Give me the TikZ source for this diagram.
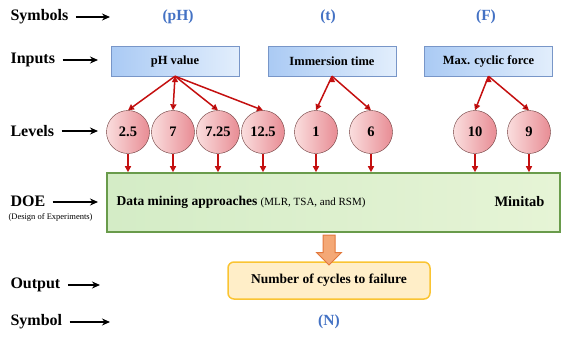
\documentclass[tikz,border=0pt]{standalone}
\usepackage{fontspec}
\setmainfont{Liberation Serif}
\usetikzlibrary{arrows.meta,shapes.arrows}

\definecolor{symblue}{RGB}{68,114,196}
\definecolor{inline}{RGB}{120,150,200}
\definecolor{inleft}{RGB}{170,202,244}
\definecolor{inright}{RGB}{226,238,252}
\definecolor{lvlline}{RGB}{105,55,55}
\definecolor{lvlleft}{RGB}{250,222,222}
\definecolor{lvlright}{RGB}{232,140,148}
\definecolor{feedred}{RGB}{196,16,16}
\definecolor{doeline}{RGB}{105,155,75}
\definecolor{doeleft}{RGB}{212,236,198}
\definecolor{doeright}{RGB}{230,244,214}
\definecolor{outline}{RGB}{250,196,50}
\definecolor{outfill}{RGB}{255,238,200}
\definecolor{flowline}{RGB}{226,120,60}
\definecolor{flowfill}{RGB}{244,168,118}

\begin{document}
\begin{tikzpicture}[x=1pt,y=-1pt,
  lbl/.style={anchor=west,font=\fontsize{16}{18}\selectfont\bfseries},
  sym/.style={text=symblue,font=\fontsize{15.5}{17}\selectfont\bfseries},
  inbox/.style={draw=inline,left color=inleft,right color=inright,
    minimum width=128pt,minimum height=30pt,font=\fontsize{12.5}{14}\selectfont\bfseries},
  lvl/.style={circle,draw=lvlline,left color=lvlleft,right color=lvlright,
    minimum size=43pt,inner sep=0pt,font=\fontsize{14.5}{16}\selectfont\bfseries},
  feed/.style={draw=feedred,line width=1.5pt,-{Triangle[length=6pt,width=6pt]}},
  blk/.style={line width=2pt,shorten <=4pt,-{Stealth[length=8pt,width=7pt]}}]
\useasboundingbox (0,0) rectangle (568,338);

% row labels on the left
\node[lbl] (symbols) at (7,17) {Symbols};
\node[lbl] (inputs) at (7,60) {Inputs};
\node[lbl] (levels) at (7,131) {Levels};
\node[lbl] (doelbl) at (7,201) {DOE};
\node[anchor=west,font=\fontsize{8.5}{10}\selectfont] (doefull) at (5,217) {(Design of Experiments)};
\node[lbl] (output) at (7,285) {Output};
\node[lbl] (symbol) at (7,322) {Symbol};
\coordinate (symbols-end) at (110,17);
\coordinate (inputs-end) at (98,60);
\coordinate (levels-end) at (98,131);
\coordinate (doe-end) at (98,202);
\coordinate (output-end) at (100,285);
\coordinate (symbol-end) at (110,322);
\draw[blk] (symbols) -- (symbols-end);
\draw[blk] (inputs) -- (inputs-end);
\draw[blk] (levels) -- (levels-end);
\draw[blk] (doelbl.east |- doe-end) -- (doe-end);
\draw[blk] (output) -- (output-end);
\draw[blk] (symbol) -- (symbol-end);

% symbols
\node[sym] (sph) at (178,17) {(pH)};
\node[sym] (st) at (328,17) {(t)};
\node[sym] (sf) at (486,17) {(F)};
\node[sym] (sn) at (329,322) {(N)};

% inputs
\node[inbox] (ph) at (175,61) {pH value};
\node[inbox] (time) at (332,61) {Immersion time};
\node[inbox] (force) at (488.5,61) {Max. cyclic force};

% levels
\node[lvl] (l1) at (128,132) {2.5};
\node[lvl] (l2) at (173,132) {7};
\node[lvl] (l3) at (218,132) {7.25};
\node[lvl] (l4) at (263,132) {12.5};
\node[lvl] (l5) at (316,132) {1};
\node[lvl] (l6) at (371,132) {6};
\node[lvl] (l7) at (475,132) {10};
\node[lvl] (l8) at (529,132) {9};

\path[feed] (ph.south) edge (l1.north) edge (l2.north) edge (l3.north) edge (l4.north);
\path[feed] (time.south) edge (l5.north) edge (l6.north);
\path[feed] (force.south) edge (l7.north) edge (l8.north);

% DOE block
\node[draw=doeline,line width=1.6pt,left color=doeleft,right color=doeright,
  minimum width=453pt,minimum height=59pt] (doe) at (333.5,202.5) {};
\node[anchor=west] (mining) at (113,202)
  {\fontsize{13.5}{15}\selectfont\bfseries Data mining approaches
   \fontsize{11}{13}\mdseries\selectfont(MLR, TSA, and RSM)};
\node[anchor=east,font=\fontsize{14.5}{16}\selectfont\bfseries] (minitab) at (548,202) {Minitab};

\foreach \i in {1,...,8}
  \draw[feed] (l\i.south) -- (l\i.south |- doe.north);

% output
\node[draw=outline,fill=outfill,line width=1.5pt,rounded corners=6pt,
  minimum width=202pt,minimum height=37pt,font=\fontsize{13.5}{15}\selectfont\bfseries]
  (out) at (329,280.5) {Number of cycles to failure};
\path (doe.south -| out.north) -- (out.north)
  node[midway,single arrow,rotate=-90,draw=flowline,fill=flowfill,line width=1pt,
    minimum height=30pt,inner xsep=0pt,inner ysep=5.5pt,
    single arrow head extend=6.5pt] (flow) {};
\end{tikzpicture}
\end{document}
